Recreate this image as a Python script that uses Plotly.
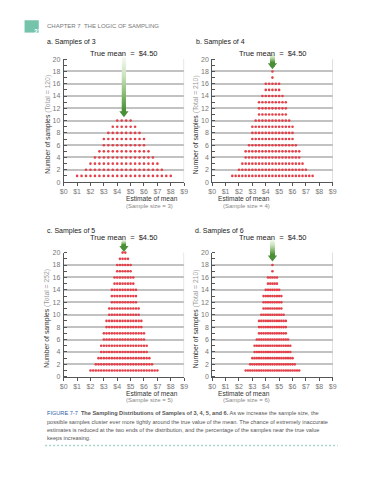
import plotly.graph_objects as go
import numpy as np

W, H = 381, 480
FONT = "Liberation Sans, Arial, sans-serif"

# ---------------- data ----------------
sample_sizes = [3, 4, 5, 6]
totals = [120, 210, 252, 210]
min_sums = [3, 6, 10, 15]          # smallest possible sum of each sample size
counts_3 = [1, 1, 2, 3, 4, 5, 7, 8, 9, 10, 10, 10, 10, 9, 8, 7, 5, 4, 3, 2, 1, 1]
counts_4 = [1, 1, 2, 3, 5, 6, 9, 10, 13, 14, 16, 16, 18, 16, 16, 14, 13, 10, 9, 6, 5, 3, 2, 1, 1]
counts_5 = [1, 1, 2, 3, 5, 7, 9, 11, 14, 16, 18, 19, 20, 20, 19, 18, 16, 14, 11, 9, 7, 5, 3, 2, 1, 1]
counts_6 = [1, 1, 2, 3, 5, 6, 9, 10, 13, 14, 16, 16, 18, 16, 16, 14, 13, 10, 9, 6, 5, 3, 2, 1, 1]
all_counts = [counts_3, counts_4, counts_5, counts_6]
true_mean = 4.50
x_tick_vals = [0, 1, 2, 3, 4, 5, 6, 7, 8, 9]
x_tick_labels = ["$0", "$1", "$2", "$3", "$4", "$5", "$6", "$7", "$8", "$9"]
y_tick_vals = [0, 2, 4, 6, 8, 10, 12, 14, 16, 18, 20]
panel_titles = ["a. Samples of 3", "b. Samples of 4", "c. Samples of 5", "d. Samples of 6"]
arrow_tops = [20.0, 20.4, 21.7, 21.7]
arrow_tips = [10.8, 18.6, 20.35, 18.8]

# ---------------- layout geometry (pixels) ----------------
panel_px = [
    (61.0, 184.0, 56.0, 180.7),
    (212.7, 335.7, 56.0, 180.7),
    (61.0, 184.0, 252.3, 378.3),
    (212.7, 335.7, 252.3, 378.3),
]
title_offsets = [6.0, 6.0, 15.3, 15.3]
Y_MAX = 20
Y_OVER = 22   # overlay range used to draw the true-mean arrow above the plot


def px(x):
    return x / W


def py(y):
    return 1 - y / H


fig = go.Figure()
annotations = []
shapes = []

green_scale = [[0, "#f4f9f0"], [0.35, "#c9e2bb"], [0.7, "#86b96f"], [1, "#4a8f37"]]

for i, (n, total, smin, counts) in enumerate(zip(sample_sizes, totals, min_sums, all_counts)):
    xa = "x" if i == 0 else f"x{i+1}"
    ya = "y" if i == 0 else f"y{i+1}"
    xo, yo = f"x{i+5}", f"y{i+5}"
    xl, xr, yt, yb = panel_px[i]
    means = [(smin + k) / n for k in range(len(counts))]
    xs, ys = [], []
    for m, c in zip(means, counts):
        for lvl in range(1, c + 1):
            xs.append(m)
            ys.append(lvl)

    fig.add_trace(go.Scatter(
        x=xs, y=ys, mode="markers", xaxis=xa, yaxis=ya,
        marker=dict(size=2.6, color="#e3404a", line=dict(width=0)),
        showlegend=False, hoverinfo="skip", cliponaxis=False,
    ))

    # gradient arrow shaft (dense square markers) + head, on an overlay axis
    top, tip = arrow_tops[i], arrow_tips[i]
    head_len = 0.55
    shaft_y = np.linspace(top, tip + head_len, 60)
    fig.add_trace(go.Scatter(
        x=[true_mean] * len(shaft_y), y=shaft_y, mode="markers", xaxis=xo, yaxis=yo,
        marker=dict(symbol="square", size=4, color=list(range(len(shaft_y))),
                    colorscale=green_scale, line=dict(width=0)),
        showlegend=False, hoverinfo="skip", cliponaxis=False,
    ))
    fig.add_trace(go.Scatter(
        x=[true_mean], y=[tip + head_len * 0.75], mode="markers", xaxis=xo, yaxis=yo,
        marker=dict(symbol="triangle-down", size=8, color="#4a8f37", line=dict(width=0)),
        showlegend=False, hoverinfo="skip", cliponaxis=False,
    ))

    axx = dict(
        domain=[px(xl), px(xr)], anchor=ya, range=[0, 9],
        tickvals=x_tick_vals, ticktext=x_tick_labels,
        showgrid=False, zeroline=False, showline=True, linecolor="#555", linewidth=1,
        ticks="outside", ticklen=3, tickcolor="#555", tickwidth=1,
        tickfont=dict(family=FONT, size=7, color="#777"),
    )
    axy = dict(
        domain=[py(yb), py(yt)], anchor=xa, range=[0, Y_MAX],
        tickvals=y_tick_vals, showgrid=True, gridcolor="#c2c2c2", gridwidth=1.5,
        zeroline=False, showline=True, linecolor="#555", linewidth=1, ticks="",
        minor=dict(dtick=1, tick0=0, ticks="inside", ticklen=3, tickcolor="#555", showgrid=False),
        tickfont=dict(family=FONT, size=7, color="#777"), ticklabelstandoff=1,
    )
    fig.layout[("xaxis" if i == 0 else f"xaxis{i+1}")] = axx
    fig.layout[("yaxis" if i == 0 else f"yaxis{i+1}")] = axy
    over_top = yb - (yb - yt) * Y_OVER / Y_MAX
    fig.layout[f"xaxis{i+5}"] = dict(domain=[px(xl), px(xr)], anchor=yo, range=[0, 9],
                                     visible=False, showgrid=False)
    fig.layout[f"yaxis{i+5}"] = dict(domain=[py(yb), py(over_top)], anchor=xo,
                                     range=[0, Y_OVER], visible=False, showgrid=False)

    # right border
    shapes.append(dict(type="line", xref=xa, yref=f"{ya} domain", x0=9, x1=9, y0=0, y1=1,
                       line=dict(color="#c8c8c8", width=1)))

    cx = (xl + xr) / 2
    # True mean title
    annotations.append(dict(x=true_mean, xref=xa, y=py(yt - title_offsets[i]), yref="paper",
                            text="True mean  =  $4.50", showarrow=False, yanchor="middle",
                            font=dict(family=FONT, size=7.5, color="#222")))
    # x titles
    annotations.append(dict(x=px(cx), y=py(yb + 17.0), xref="paper", yref="paper",
                            text="Estimate of mean", showarrow=False, yanchor="middle",
                            font=dict(family=FONT, size=6.6, color="#333")))
    annotations.append(dict(x=px(cx), y=py(yb + 24.0), xref="paper", yref="paper",
                            text=f"(Sample size = {n})", showarrow=False, yanchor="middle",
                            font=dict(family=FONT, size=6, color="#888")))
    # y title
    annotations.append(dict(x=px(xl - 17), y=py((yt + yb) / 2 + 4), xref="paper", yref="paper",
                            text=f"Number of samples <span style='color:#999'>(Total = {total})</span>",
                            textangle=-90, showarrow=False, xanchor="center", yanchor="middle",
                            font=dict(family=FONT, size=6.8, color="#333")))

# panel labels
label_pos = [(41.7, 39), (194.3, 39), (41.7, 230), (193.0, 230)]
for t, (lx, ly) in zip(panel_titles, label_pos):
    annotations.append(dict(x=px(lx), y=py(ly), xref="paper", yref="paper", text=t,
                            showarrow=False, xanchor="left", yanchor="middle",
                            font=dict(family=FONT, size=7, color="#222")))

# header
shapes.append(dict(type="rect", xref="paper", yref="paper", x0=px(21), x1=px(35.5),
                   y0=py(29), y1=py(16.5), fillcolor="#74c3aa", line=dict(width=0)))
annotations.append(dict(x=px(28.3), y=py(22.8), xref="paper", yref="paper", text="<b>218</b>",
                        showarrow=False, font=dict(family=FONT, size=6.5, color="white")))
annotations.append(dict(x=px(42), y=py(22.8), xref="paper", yref="paper",
                        text="CHAPTER 7  THE LOGIC OF SAMPLING", showarrow=False,
                        xanchor="left", yanchor="middle",
                        font=dict(family=FONT, size=6, color="#777")))

# caption
cap_lines = [
    "<span style='color:#2f5ca8'>FIGURE 7-7</span>  <b>The Sampling Distributions of Samples of 3, 4, 5, and 6.</b> As we increase the sample size, the",
    "possible samples cluster ever more tightly around the true value of the mean. The chance of extremely inaccurate",
    "estimates is reduced at the two ends of the distribution, and the percentage of the samples near the true value",
    "keeps increasing.",
]
cap_y = [415.3, 424.0, 432.5, 440.5]
for t, cy in zip(cap_lines, cap_y):
    annotations.append(dict(x=px(41.5), y=py(cy), xref="paper", yref="paper", text=t,
                            showarrow=False, xanchor="left", yanchor="middle",
                            font=dict(family=FONT, size=5.6, color="#555")))
shapes.append(dict(type="line", xref="paper", yref="paper", x0=px(42), x1=px(341),
                   y0=py(448), y1=py(448), line=dict(color="#a6d6c9", width=1.5, dash="2px,2px")))

fig.update_layout(
    width=W, height=H, margin=dict(l=0, r=0, t=0, b=0),
    paper_bgcolor="white", plot_bgcolor="rgba(0,0,0,0)",
    annotations=annotations, shapes=shapes, showlegend=False,
    font=dict(family=FONT),
)
fig.write_html("out.html", config={"displayModeBar": False},
               post_script="document.body.style.margin='0';document.body.style.overflow='hidden';")
